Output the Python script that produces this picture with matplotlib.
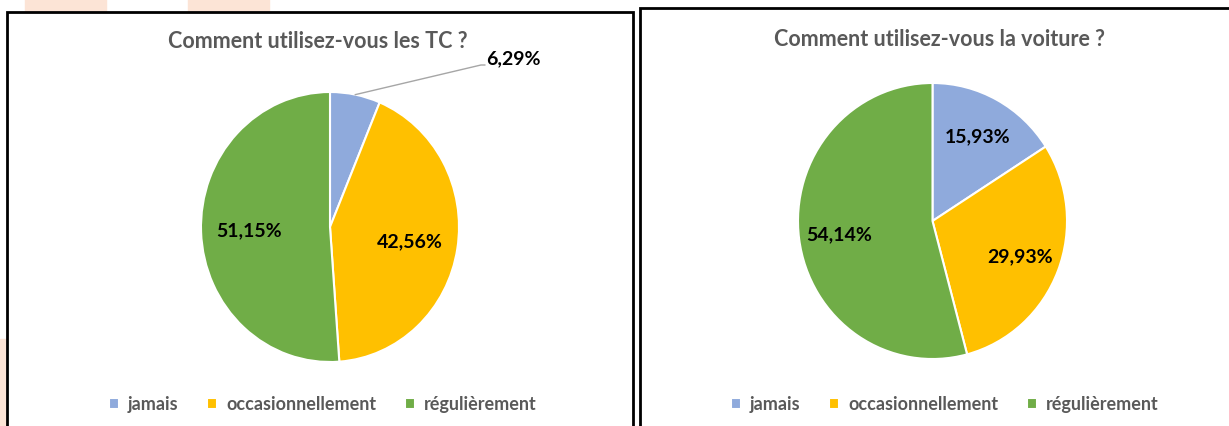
import matplotlib.pyplot as plt
from matplotlib.patches import Rectangle
import numpy as np

W, H = 1229, 427

categories = ["jamais", "occasionnellement", "régulièrement"]
tc_values = [6.29, 42.56, 51.15]
voiture_values = [15.93, 29.93, 54.14]
titles = ["Comment utilisez-vous les TC ?", "Comment utilisez-vous la voiture ?"]
colors = ["#8FAADC", "#FFC000", "#70AD47"]

plt.rcParams['font.family'] = ['Lato', 'DejaVu Sans']


def px_box(x0, y0, x1, y1):
    # pixel box (top-left origin) -> figure fraction
    return [x0 / W, (H - y1) / H, (x1 - x0) / W, (y1 - y0) / H]


def fmt(v):
    return f"{v:.2f}%".replace(".", ",")


fig = plt.figure(figsize=(W / 100, H / 100), dpi=100)
fig.patch.set_facecolor("white")

# slide decoration behind the charts
for x0, y0, x1, y1 in [(25, 0, 106, 12), (188, 0, 269, 12), (0, 340, 6, 427)]:
    fig.patches.append(Rectangle((x0 / W, (H - y1) / H), (x1 - x0) / W, (y1 - y0) / H,
                                 transform=fig.transFigure, color="#FCE4D6", zorder=0))

# chart borders
for x0, y0, x1 in [(7, 13, 633), (640, 9, 1240)]:
    fig.patches.append(Rectangle((x0 / W, -0.1), (x1 - x0) / W, 1.1 - y0 / H,
                                 transform=fig.transFigure, fill=False,
                                 edgecolor="black", linewidth=2, zorder=1))

panels = [
    # values, pie box, label radius, title x, legend x
    (tc_values, (201, 93, 459, 363), 0.63, 318, 323),
    (voiture_values, (798, 84, 1067, 360), 0.70, 940, 945),
]

for i, (values, box, lab_r, title_x, leg_x) in enumerate(panels):
    ax = fig.add_axes(px_box(*box))
    wedges, _ = ax.pie(values, colors=colors, startangle=90, counterclock=False,
                       wedgeprops=dict(edgecolor="white", linewidth=1.5))
    ax.set_aspect("auto")
    ax.set_xlim(-1, 1)
    ax.set_ylim(-1, 1)
    ax.axis("off")

    cum = np.cumsum([0] + values[:-1])
    for j, v in enumerate(values):
        ang = np.deg2rad(90 - (cum[j] + v / 2) * 3.6)
        if v < 10:
            # small slice: label outside with a leader line
            x0, y0 = np.cos(ang), np.sin(ang)
            ax.plot([x0, 1.17, 1.2], [y0, 1.2, 1.2], color="#A6A6A6",
                    linewidth=1, clip_on=False)
            ax.text(1.21, 1.19, fmt(v), ha="left", va="bottom", fontsize=14,
                    fontweight="bold", color="black", clip_on=False)
        else:
            ax.text(lab_r * np.cos(ang), lab_r * np.sin(ang), fmt(v), ha="center",
                    va="center", fontsize=14, fontweight="bold", color="black")

    fig.text(title_x / W, 1 - (42 if i == 0 else 39) / H, titles[i], ha="center",
             va="center", fontsize=15.5, fontweight="bold", color="#595959")

    fig.legend(wedges, categories, loc="center", ncol=3, frameon=False,
               bbox_to_anchor=(leg_x / W, 1 - 405 / H),
               prop=dict(size=13, weight="bold"),
               labelcolor="#595959", handlelength=0.55, handleheight=0.55,
               handletextpad=0.5, columnspacing=1.6)

fig.savefig("out.png", dpi=100)
